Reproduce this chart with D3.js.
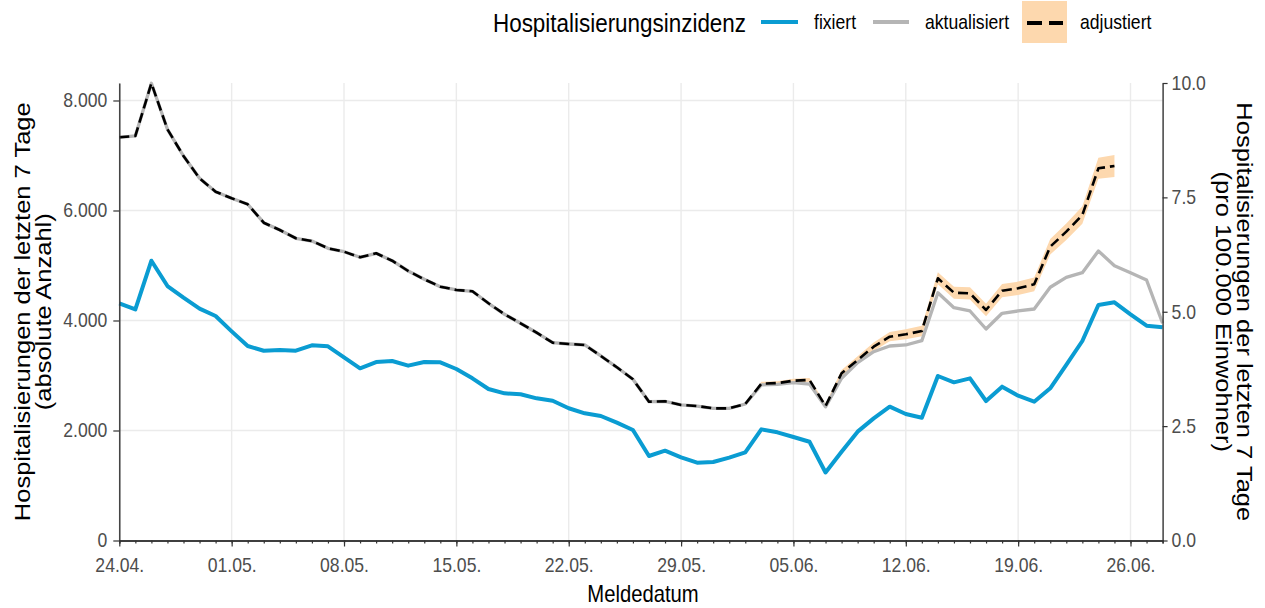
<!DOCTYPE html>
<html>
<head>
<meta charset="utf-8">
<script src="https://cdn.jsdelivr.net/npm/d3@7"></script>
<style>
  html, body { margin: 0; padding: 0; background: #fff; }
  svg { display: block; font-family: "Liberation Sans", Arial, sans-serif; }
</style>
</head>
<body>
<svg id="chart" width="1265" height="608"></svg>
<script>
'use strict';

// Meldedatum, one value per day
var startDate = "2022-04-24";
var endDate = "2022-06-28";

var fixiert = [4310, 4200, 5087, 4627, 4415, 4215, 4082, 3803, 3536, 3450,
    3464, 3451, 3549, 3530, 3330, 3130, 3245, 3264, 3179, 3245,
    3239, 3118, 2949, 2755, 2676, 2658, 2585, 2542, 2404, 2312,
    2264, 2142, 2009, 1536, 1633, 1512, 1415, 1427, 1506, 1603,
    2021, 1967, 1882, 1795, 1237, 1615, 1979, 2221, 2433, 2300,
    2233, 2991, 2876, 2948, 2536, 2797, 2633, 2524, 2767, 3191,
    3627, 4282, 4330, 4112, 3906, 3876];

var aktualisiert = [7331, 7355, 8313, 7476, 6991, 6585, 6342, 6222, 6113, 5778,
    5645, 5495, 5445, 5313, 5251, 5149, 5222, 5087, 4900, 4749,
    4615, 4555, 4531, 4313, 4113, 3949, 3778, 3596, 3573, 3555,
    3355, 3149, 2931, 2524, 2531, 2464, 2445, 2403, 2403, 2482,
    2830, 2840, 2870, 2845, 2430, 2949, 3233, 3433, 3536, 3555,
    3633, 4505, 4233, 4173, 3845, 4131, 4173, 4209, 4604, 4785,
    4869, 5264, 4996, 4869, 4736, 3949];

var adjustiert = [7331, 7355, 8313, 7476, 6991, 6585, 6342, 6222, 6113, 5778,
    5645, 5495, 5445, 5313, 5251, 5149, 5222, 5087, 4900, 4749,
    4615, 4555, 4531, 4313, 4113, 3949, 3778, 3596, 3573, 3555,
    3355, 3149, 2931, 2524, 2531, 2464, 2445, 2403, 2403, 2482,
    2850, 2862, 2905, 2920, 2445, 3040, 3282, 3524, 3706, 3749,
    3809, 4767, 4505, 4494, 4191, 4542, 4585, 4658, 5342, 5615,
    5918, 6767, 6809];

var adjustiertLower = [7323, 7347, 8305, 7468, 6983, 6577, 6334, 6214, 6105, 5770,
    5637, 5487, 5437, 5305, 5243, 5141, 5214, 5079, 4892, 4741,
    4607, 4547, 4523, 4305, 4105, 3941, 3770, 3588, 3565, 3547,
    3343, 3137, 2919, 2512, 2519, 2452, 2425, 2383, 2383, 2462,
    2815, 2827, 2870, 2885, 2405, 2980, 3212, 3446, 3621, 3659,
    3714, 4657, 4395, 4382, 4076, 4422, 4463, 4533, 5202, 5465,
    5758, 6577, 6609];

var adjustiertUpper = [7339, 7363, 8321, 7484, 6999, 6593, 6350, 6230, 6121, 5786,
    5653, 5503, 5453, 5321, 5259, 5157, 5230, 5095, 4908, 4757,
    4623, 4563, 4539, 4321, 4121, 3957, 3786, 3604, 3581, 3563,
    3367, 3161, 2943, 2536, 2543, 2476, 2465, 2423, 2423, 2502,
    2885, 2897, 2940, 2955, 2485, 3100, 3352, 3602, 3791, 3839,
    3904, 4877, 4615, 4606, 4306, 4662, 4707, 4783, 5482, 5765,
    6078, 6957, 7009];

var leftTicks = [0, 2000, 4000, 6000, 8000];
var rightTicks = [0, 2.5, 5, 7.5, 10];
var perHundredK = 831.8; // absolute count per 1 / 100.000 Einwohner

var legendTitle = "Hospitalisierungsinzidenz";
var legendLabels = ["fixiert", "aktualisiert", "adjustiert"];

var width = 1265;
var height = 608;
var margin = { left: 119.3, top: 83, right: 102.4, bottom: 67.5 };
var squeeze = 0.88;

var blue = "#0a9cd2";
var grey = "#b5b5b5";
var ribbonFill = "#fdd8ae";

var svg = d3.select("#chart");
svg.append("rect").attr("width", width).attr("height", height).attr("fill", "#fff");

var parse = d3.utcParse("%Y-%m-%d");
var dates = d3.utcDay.range(parse(startDate), d3.utcDay.offset(parse(endDate), 1));

var x = d3.scaleUtc()
    .domain([dates[0], dates[dates.length - 1]])
    .range([margin.left, width - margin.right]);

var yLeft = d3.scaleLinear()
    .domain([0, 10 * perHundredK])
    .range([height - margin.bottom, margin.top]);

var yRight = d3.scaleLinear()
    .domain([0, 10])
    .range([height - margin.bottom, margin.top]);

var de = d3.formatLocale({ decimal: ",", thousands: ".", grouping: [3], currency: ["", " €"] });

var majorDates = d3.utcDay.range(dates[0], d3.utcDay.offset(dates[dates.length - 1], 1), 7);

// squeeze text horizontally like the narrow reference rendering
function narrow(sel) {
    sel.each(function() {
        var t = d3.select(this);
        var tx = +t.attr("x") || 0;
        var ty = +t.attr("y") || 0;
        t.attr("x", 0).attr("y", 0)
            .attr("transform", "translate(" + tx + "," + ty + ") scale(" + squeeze + ",1)");
    });
}

// grid
var grid = svg.append("g");
grid.selectAll(".hgrid")
    .data(leftTicks.slice(1))
    .enter().append("line")
    .attr("x1", margin.left).attr("x2", width - margin.right)
    .attr("y1", function(d) { return yLeft(d); })
    .attr("y2", function(d) { return yLeft(d); })
    .attr("stroke", "#ebebeb").attr("stroke-width", 1.4);
grid.selectAll(".vgrid")
    .data(majorDates)
    .enter().append("line")
    .attr("x1", function(d) { return x(d); })
    .attr("x2", function(d) { return x(d); })
    .attr("y1", margin.top).attr("y2", height - margin.bottom)
    .attr("stroke", "#ebebeb").attr("stroke-width", 1.4);

// ribbon + lines
var area = d3.area()
    .x(function(d, i) { return x(dates[i]); })
    .y0(function(d) { return yLeft(d[0]); })
    .y1(function(d) { return yLeft(d[1]); });

svg.append("path")
    .datum(adjustiertLower.map(function(d, i) { return [d, adjustiertUpper[i]]; }))
    .attr("d", area)
    .attr("fill", ribbonFill);

var line = d3.line()
    .x(function(d, i) { return x(dates[i]); })
    .y(function(d) { return yLeft(d); });

svg.append("path").datum(aktualisiert)
    .attr("d", line).attr("fill", "none")
    .attr("stroke", grey).attr("stroke-width", 3.3).attr("stroke-linejoin", "round");

svg.append("path").datum(fixiert)
    .attr("d", line).attr("fill", "none")
    .attr("stroke", blue).attr("stroke-width", 4).attr("stroke-linejoin", "round");

svg.append("path").datum(adjustiert)
    .attr("d", line).attr("fill", "none")
    .attr("stroke", "#000").attr("stroke-width", 2.6)
    .attr("stroke-dasharray", "10,5").attr("stroke-linejoin", "round");

// axes
function styleAxis(g) {
    g.select(".domain").attr("stroke", "#333").attr("stroke-width", 1.4);
    g.selectAll(".tick line").attr("stroke", "#333").attr("stroke-width", 1.2);
    g.selectAll(".tick text").attr("fill", "#4d4d4d").style("font-size", "20px");
}

var xMinor = svg.append("g")
    .attr("transform", "translate(0," + (height - margin.bottom) + ")")
    .call(d3.axisBottom(x).tickValues(dates).tickSize(3).tickFormat(""));
styleAxis(xMinor);

var xAxis = svg.append("g")
    .attr("transform", "translate(0," + (height - margin.bottom) + ")")
    .call(d3.axisBottom(x).tickValues(majorDates).tickSize(6).tickSizeOuter(0)
        .tickPadding(11).tickFormat(d3.utcFormat("%d.%m.")));
styleAxis(xAxis);
xAxis.selectAll(".tick text").call(narrow);

var yAxisL = svg.append("g")
    .attr("transform", "translate(" + margin.left + ",0)")
    .call(d3.axisLeft(yLeft).tickValues(leftTicks).tickSize(6).tickSizeOuter(0)
        .tickPadding(6).tickFormat(de.format(",")));
styleAxis(yAxisL);
yAxisL.selectAll(".tick text").call(narrow);

var yAxisR = svg.append("g")
    .attr("transform", "translate(" + (width - margin.right) + ",0)")
    .call(d3.axisRight(yRight).tickValues(rightTicks).tickSize(5).tickSizeOuter(0)
        .tickPadding(4).tickFormat(d3.format(".1f")));
styleAxis(yAxisR);
yAxisR.selectAll(".tick text").call(narrow);

// axis titles
svg.append("text")
    .attr("transform", "translate(643,602) scale(" + squeeze + ",1)")
    .attr("text-anchor", "middle")
    .style("font-size", "23px")
    .text("Meldedatum");

var midY = (margin.top + height - margin.bottom) / 2;
var leftTitle = ["Hospitalisierungen der letzten 7 Tage", "(absolute Anzahl)"];
svg.selectAll(".ltitle")
    .data(leftTitle)
    .enter().append("text")
    .attr("transform", function(d, i) {
        return "translate(" + (30 + i * 21) + "," + midY + ") rotate(-90) scale(1," + squeeze + ")";
    })
    .attr("text-anchor", "middle")
    .style("font-size", "25.5px")
    .text(function(d) { return d; });

var rightTitle = ["Hospitalisierungen der letzten 7 Tage", "(pro 100.000 Einwohner)"];
svg.selectAll(".rtitle")
    .data(rightTitle)
    .enter().append("text")
    .attr("transform", function(d, i) {
        return "translate(" + (1237 - i * 21) + "," + midY + ") rotate(90) scale(1," + squeeze + ")";
    })
    .attr("text-anchor", "middle")
    .style("font-size", "25.5px")
    .text(function(d) { return d; });

// legend
var legend = svg.append("g");
legend.append("text")
    .attr("transform", "translate(493,32) scale(" + squeeze + ",1)")
    .style("font-size", "25.5px")
    .text(legendTitle);

legend.append("line")
    .attr("x1", 761).attr("x2", 798).attr("y1", 22).attr("y2", 22)
    .attr("stroke", blue).attr("stroke-width", 4);
legend.append("line")
    .attr("x1", 873).attr("x2", 909).attr("y1", 22).attr("y2", 22)
    .attr("stroke", grey).attr("stroke-width", 4);
legend.append("rect")
    .attr("x", 1022).attr("y", 1).attr("width", 45).attr("height", 42)
    .attr("fill", ribbonFill);
legend.append("line")
    .attr("x1", 1027).attr("x2", 1063).attr("y1", 23).attr("y2", 23)
    .attr("stroke", "#000").attr("stroke-width", 4).attr("stroke-dasharray", "15,7");

var labelX = [814, 925, 1080];
legend.selectAll(".lab")
    .data(legendLabels)
    .enter().append("text")
    .attr("transform", function(d, i) { return "translate(" + labelX[i] + ",29) scale(" + squeeze + ",1)"; })
    .style("font-size", "20px")
    .text(function(d) { return d; });
</script>
</body>
</html>
